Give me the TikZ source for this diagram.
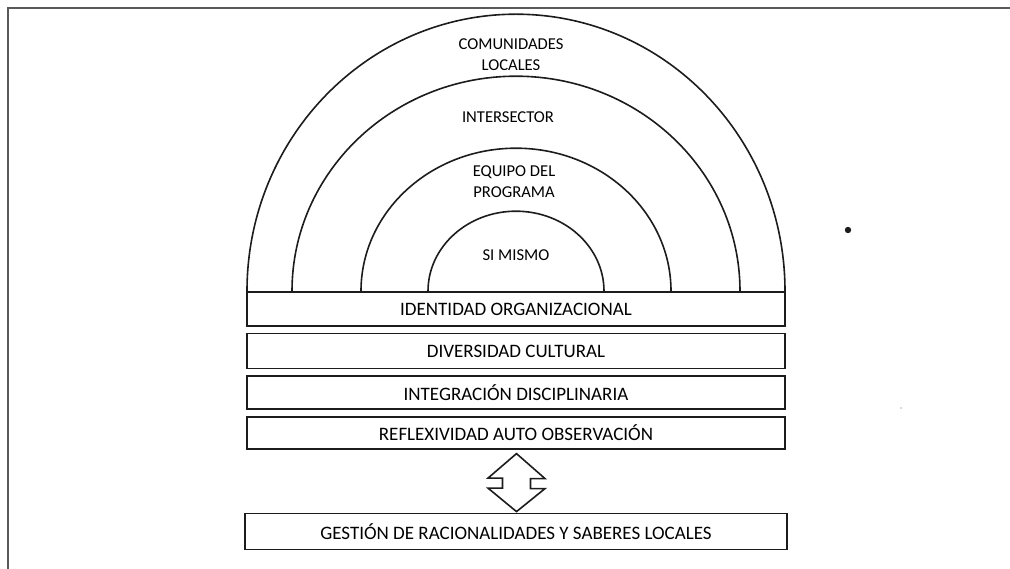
\documentclass[tikz,border=0pt]{standalone}
\usepackage{fontspec}
\setmainfont{Carlito}
\usetikzlibrary{positioning,calc}
\definecolor{ink}{HTML}{1c1c1c}
\definecolor{frame}{HTML}{5a5a5a}

\begin{document}
\begin{tikzpicture}[
  x=1pt, y=-1pt,
  node distance=6pt,
  band/.style={draw=ink, line width=1.6pt, minimum width=538pt, inner sep=0pt, font=\fontsize{19}{21}\selectfont},
  ring/.style={draw=ink, line width=1.6pt},
  lbl/.style={align=center, inner sep=0pt, font=\fontsize{16.6}{21}\selectfont}
]
\useasboundingbox (0,0) rectangle (1010,569);
% page frame
\draw[frame, line width=2pt] (1014,8) -- (8,8) -- (8,572);

% stacked bands
\node[band, minimum height=34pt] (ident) at (516,309) {IDENTIDAD ORGANIZACIONAL};
\node[band, minimum height=35pt, below=of ident] (divers) {DIVERSIDAD CULTURAL};
\node[band, minimum height=33pt, below=of divers] (integr) {INTEGRACIÓN DISCIPLINARIA};
\node[band, minimum height=32pt, below=of integr] (reflex) {REFLEXIVIDAD AUTO OBSERVACIÓN};
\node[band, minimum height=36pt, minimum width=542pt, below=63pt of reflex] (gestion) {GESTIÓN DE RACIONALIDADES Y SABERES LOCALES};

% half rings on top of the first band
\coordinate (o) at (ident.north);
\foreach \rx/\ry in {269/277, 224/215, 155/143, 88/80}
  \draw[ring] ($(o)+(-\rx,0)$) arc[start angle=180, end angle=0, x radius=\rx pt, y radius=\ry pt];

\node[lbl] (comun) at (511,55) {COMUNIDADES\\LOCALES};
\node[lbl] (inter) at (508,117) {INTERSECTOR};
\node[lbl] (equipo) at (514,182) {EQUIPO DEL\\PROGRAMA};
\node[lbl] (simismo) at (516,255) {SI MISMO};

% two-way block arrow
\draw[ring, line join=miter] ($(reflex.south)+(0.5,4)$) -- ++(-28.5,24.5) -- ++(14.5,0) -- ++(0,10)
  -- ++(-14.5,0) -- ($(gestion.north)+(0.5,-1)$) -- ++(28.5,-23) -- ++(-14.5,0) -- ++(0,-10)
  -- ++(14.5,0) -- cycle;

% stray marks
\fill[ink] (848,230) circle (3.2pt);
\fill[black!20] (901,408) circle (1.2pt);
\end{tikzpicture}
\end{document}
